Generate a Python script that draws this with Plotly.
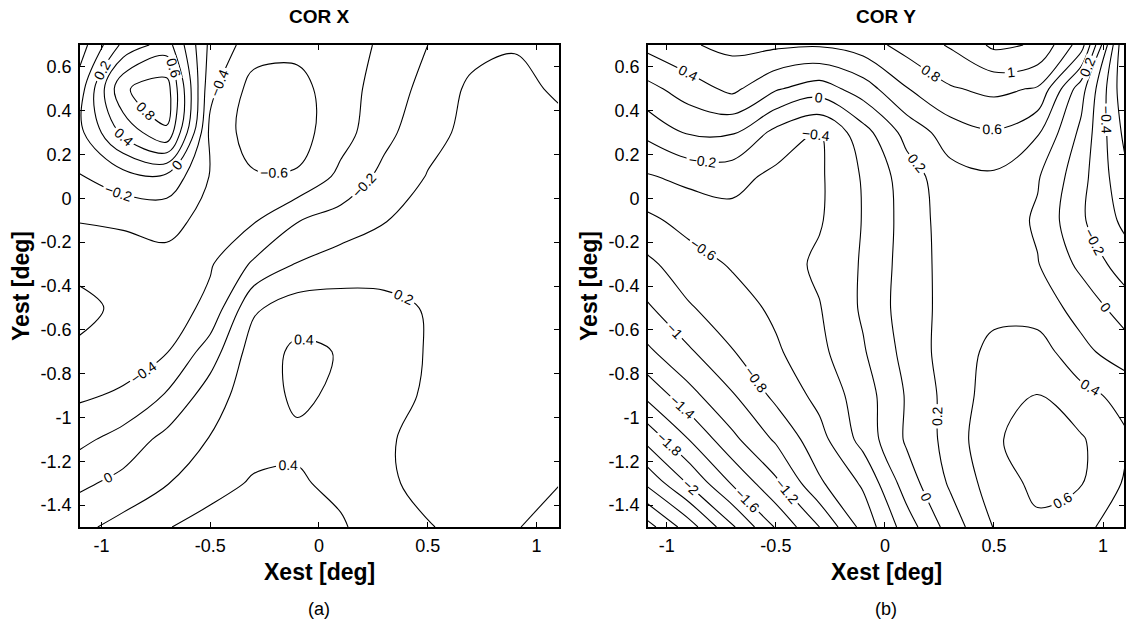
import plotly.graph_objects as go

# ---------------- data ----------------
x_grid = [-1.1, -0.9, -0.7, -0.5, -0.3, -0.1, 0.1, 0.3, 0.5, 0.7, 0.9, 1.1]
y_grid = [-1.5, -1.3, -1.1, -0.9, -0.7, -0.5, -0.3, -0.1, 0.1, 0.3, 0.5, 0.7]

# COR X values, one row per y_grid value (bottom to top)
cor_x = [
    [0.15, 0.27, 0.39, 0.47, 0.50, 0.48, 0.42, 0.30, 0.21, 0.15, 0.19, 0.26],
    [-0.04, 0.06, 0.19, 0.33, 0.42, 0.42, 0.36, 0.23, 0.15, 0.13, 0.17, 0.195],
    [-0.25, -0.12, 0.06, 0.21, 0.33, 0.37, 0.32, 0.22, 0.15, 0.12, 0.13, 0.14],
    [-0.43, -0.37, -0.18, 0.10, 0.32, 0.43, 0.37, 0.26, 0.18, 0.13, 0.13, 0.13],
    [-0.57, -0.50, -0.41, -0.10, 0.30, 0.44, 0.39, 0.28, 0.19, 0.13, 0.12, 0.12],
    [-0.65, -0.56, -0.50, -0.35, 0.17, 0.30, 0.28, 0.24, 0.19, 0.13, 0.12, 0.12],
    [-0.55, -0.50, -0.45, -0.42, -0.17, 0.01, 0.10, 0.14, 0.13, 0.12, 0.12, 0.12],
    [-0.39, -0.37, -0.35, -0.45, -0.42, -0.21, -0.12, -0.01, 0.08, 0.10, 0.11, 0.12],
    [-0.21, -0.08, -0.05, -0.41, -0.58, -0.58, -0.35, -0.14, 0.01, 0.08, 0.10, 0.10],
    [-0.05, 0.45, 0.78, -0.45, -0.70, -0.68, -0.48, -0.26, -0.06, 0.05, 0.07, 0.04],
    [-0.10, 0.78, 0.90, -0.35, -0.68, -0.66, -0.50, -0.30, -0.14, 0.04, 0.04, -0.02],
    [-0.30, 0.25, 0.50, -0.25, -0.50, -0.55, -0.48, -0.37, -0.20, -0.07, -0.01, -0.08],
]

# COR Y values, one row per y_grid value (bottom to top)
cor_y = [
    [-2.90, -2.50, -2.03, -1.58, -1.20, -0.73, -0.30, 0.09, 0.41, 0.56, 0.45, 0.30],
    [-2.38, -1.98, -1.58, -1.24, -0.83, -0.57, -0.10, 0.23, 0.50, 0.65, 0.61, 0.38],
    [-1.96, -1.60, -1.25, -0.97, -0.67, -0.33, 0.03, 0.27, 0.58, 0.67, 0.62, 0.43],
    [-1.57, -1.27, -1.02, -0.75, -0.54, -0.30, 0.02, 0.28, 0.50, 0.61, 0.47, 0.33],
    [-1.25, -1.03, -0.81, -0.63, -0.45, -0.22, 0.07, 0.30, 0.45, 0.50, 0.25, 0.10],
    [-1.04, -0.82, -0.69, -0.56, -0.41, -0.17, 0.10, 0.27, 0.35, 0.30, 0.13, -0.10],
    [-0.85, -0.69, -0.58, -0.50, -0.36, -0.18, 0.09, 0.28, 0.32, 0.21, -0.05, -0.30],
    [-0.65, -0.53, -0.47, -0.48, -0.42, -0.19, 0.08, 0.30, 0.33, 0.17, -0.17, -0.45],
    [-0.42, -0.35, -0.33, -0.45, -0.43, -0.18, 0.10, 0.33, 0.37, 0.22, -0.13, -0.55],
    [-0.16, 0.02, 0.02, -0.26, -0.41, -0.08, 0.27, 0.50, 0.58, 0.42, -0.05, -0.65],
    [0.13, 0.30, 0.45, 0.22, 0.10, 0.30, 0.59, 0.78, 0.85, 0.78, 0.08, -0.75],
    [0.45, 0.58, 0.65, 0.64, 0.62, 0.70, 0.88, 1.02, 1.24, 1.18, 0.70, -0.80],
]

x_tick_vals = [-1, -0.5, 0, 0.5, 1]
x_tick_text = ["-1", "-0.5", "0", "0.5", "1"]
y_tick_vals = [-1.4, -1.2, -1.0, -0.8, -0.6, -0.4, -0.2, 0, 0.2, 0.4, 0.6]
y_tick_text = ["-1.4", "-1.2", "-1", "-0.8", "-0.6", "-0.4", "-0.2", "0", "0.2", "0.4", "0.6"]

panel_titles = ["COR X", "COR Y"]
panel_tags = ["(a)", "(b)"]
x_title = "Xest [deg]"
y_title = "Yest [deg]"

# ---------------- figure ----------------
W, H = 1126, 627
FONT = "Liberation Sans, Arial, sans-serif"

def contour(z, xa, ya, start, end):
    return go.Contour(
        x=x_grid, y=y_grid, z=z, xaxis=xa, yaxis=ya,
        autocontour=False,
        contours=dict(start=start, end=end, size=0.2, coloring="lines",
                      showlabels=True, labelformat=".1~f",
                      labelfont=dict(family=FONT, size=14, color="black")),
        colorscale=[[0, "black"], [1, "black"]],
        line=dict(width=1.1, smoothing=1),
        showscale=False, hoverinfo="skip",
    )

fig = go.Figure()
fig.add_trace(contour(cor_x, "x", "y", -0.6, 0.8))
fig.add_trace(contour(cor_y, "x2", "y2", -2.8, 1.2))

ydom = [1 - 527 / H, 1 - 45 / H]
axis_common = dict(
    showgrid=False, zeroline=False, showline=True, linecolor="black", linewidth=1.5,
    mirror="ticks", ticks="inside", ticklen=5, tickwidth=1, tickcolor="black",
    tickfont=dict(family=FONT, size=18, color="black"),
)
fig.update_layout(
    width=W, height=H, margin=dict(l=0, r=0, t=0, b=0),
    paper_bgcolor="white", plot_bgcolor="white", showlegend=False,
    xaxis=dict(domain=[80 / W, 560 / W], range=[-1.099, 1.103], anchor="y",
               tickvals=x_tick_vals, ticktext=x_tick_text, ticklabelstandoff=2, **axis_common),
    yaxis=dict(domain=ydom, range=[-1.5, 0.7], anchor="x",
               tickvals=y_tick_vals, ticktext=y_tick_text, ticklabelstandoff=3, **axis_common),
    xaxis2=dict(domain=[649 / W, 1.0], range=[-1.087, 1.096], anchor="y2",
                tickvals=x_tick_vals, ticktext=x_tick_text, ticklabelstandoff=2, **axis_common),
    yaxis2=dict(domain=ydom, range=[-1.5, 0.7], anchor="x2",
                tickvals=y_tick_vals, ticktext=y_tick_text, ticklabelstandoff=3, **axis_common),
)

def ann(text, px, py, size, bold=False, angle=0):
    fig.add_annotation(
        text=f"<b>{text}</b>" if bold else text,
        x=px / W, y=1 - py / H, xref="paper", yref="paper",
        showarrow=False, textangle=angle, xanchor="center", yanchor="middle",
        font=dict(family=FONT, size=size, color="black"),
    )

for cx, title, tag in [(320, panel_titles[0], panel_tags[0]), (888, panel_titles[1], panel_tags[1])]:
    ann(title, cx, 17, 19, bold=True)
    ann(x_title, cx, 572, 23, bold=True)
    ann(tag, cx, 609, 18)
ann(y_title, 21, 286, 23, bold=True, angle=-90)
ann(y_title, 590, 286, 23, bold=True, angle=-90)

fig.write_html("out.html")
